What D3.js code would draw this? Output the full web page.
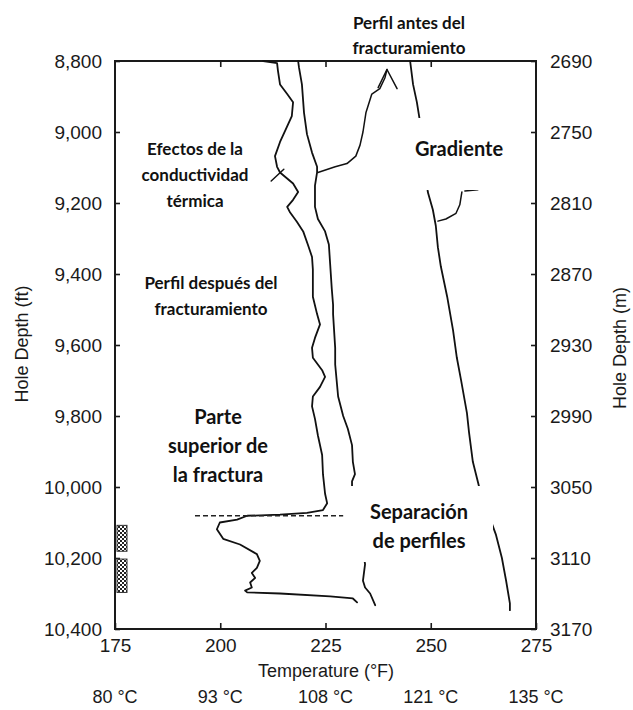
<!DOCTYPE html>
<html><head><meta charset="utf-8">
<script src="https://cdn.jsdelivr.net/npm/d3@7"></script>
<style>
html,body{margin:0;padding:0;background:#fff;}
svg{display:block;}
</style></head><body>
<svg id="chart" width="633" height="710"></svg>
<script>
// ---------- data ----------
const tempTicks = [175, 200, 225, 250, 275];
const celsiusLabels = ["80 °C", "93 °C", "108 °C", "121 °C", "135 °C"];
const depthFtTicks = [8800, 9000, 9200, 9400, 9600, 9800, 10000, 10200, 10400];
const depthMTicks = [2690, 2750, 2810, 2870, 2930, 2990, 3050, 3110, 3170];

// profile after fracturing (°F, ft)
const afterTemp = [210.2,213.5,213.7,214.2,215.9,217.3,217.0,215.4,214.2,213.0,213.5,214.2,217.3,218.5,217.3,215.9,216.6,218.2,219.7,220.8,221.8,222.0,222.0,222.0,223.0,223.7,222.5,221.8,222.0,224.2,224.9,223.7,222.0,221.8,222.5,223.2,224.2,224.4,224.9,225.4,224.4,220.6,214.2,206.4,204.0,199.9,199.2,200.7,204.7,208.7,209.4,208.7,207.5,208.3,207.1,207.5,205.9,206.4,214.2,226.1,231.5,232.5];
const afterDepth = [8800,8806,8827,8866,8893,8916,8955,8997,9028,9068,9098,9114,9145,9169,9191,9211,9227,9253,9280,9317,9352,9387,9426,9464,9513,9542,9580,9608,9636,9671,9690,9718,9745,9773,9808,9855,9910,9964,10019,10046,10065,10073,10078,10081,10092,10100,10119,10146,10162,10189,10208,10228,10242,10256,10269,10283,10292,10297,10300,10308,10314,10325];

// profile before fracturing
const beforeTemp = [218.5,218.7,219.4,219.9,220.6,221.8,223.0,223.0,222.5,222.5,223.2,224.9,225.8,226.1,226.5,226.8,226.8,227.3,227.3,228.0,229.2,230.3,231.3,231.5,232.0,231.3,231.3,231.8,233.0,234.1,234.4,233.9,234.4,235.6,236.8];
const beforeDepth = [8800,8818,8866,8946,9006,9058,9098,9114,9151,9211,9245,9280,9317,9371,9443,9487,9513,9608,9655,9745,9800,9836,9882,9929,9964,9984,10000,10073,10141,10195,10217,10264,10283,10300,10333];

// geothermal gradient
const gradientTemp = [245.1,245.8,246.7,247.4,248.4,249.3,250.5,251.2,251.7,252.4,253.9,255.3,256.2,257.2,258.6,259.1,260.0,261.5,263.6,265.5,266.9,267.9,268.8,268.8];
const gradientDepth = [8800,8866,8916,8967,9068,9169,9219,9264,9325,9379,9464,9559,9636,9699,9792,9847,9929,10000,10073,10135,10200,10264,10328,10347];

// annotation pointers
const arrowTemp = [223.2,227.3,230.1,232.2,233.2,233.9,234.6,236.0,237.9,239.1,239.6];
const arrowDepth = [9114,9098,9089,9068,9037,9000,8946,8893,8878,8848,8824];
const arrowHeadTemp = [237.5,239.6,242.0];
const arrowHeadDepth = [8875,8824,8878];
const hookTemp = [251.7,253.6,256.0,256.9,257.4];
const hookDepth = [9251,9245,9229,9205,9169];
const hookDashTemp = [258.1,261.2];
const hookDashDepth = [9166,9163];
const effectTemp = [212.1,215.1];
const effectDepth = [9138,9105];

// top of fracture (dashed) and perforated intervals
const fractureTopDepth = 10081;
const fractureTopTemps = [194.0, 229.2];
const perfTop = [10108, 10203];
const perfBottom = [10181, 10297];

// ---------- drawing ----------
const svg = d3.select("#chart");
const x = d3.scaleLinear().domain([175, 275]).range([115, 536]);
const y = d3.scaleLinear().domain([8800, 10400]).range([61, 629]);
const yM = d3.scaleLinear().domain([2690, 3170]).range([61, 629]);

const axisFont = "'Liberation Sans', Arial, sans-serif";
const noteFont = "Lato, 'Open Sans', sans-serif";
const ink = "#1a1a1a";

function styleAxis(g, size) {
  g.select(".domain").remove();
  g.selectAll(".tick line").attr("stroke", ink).attr("stroke-width", 1.6);
  g.selectAll(".tick text").attr("fill", ink).attr("font-size", size).attr("font-family", axisFont);
  g.attr("font-family", axisFont);
}

svg.append("g").attr("transform", `translate(${x(175)},0)`)
  .call(d3.axisLeft(y).tickValues(depthFtTicks).tickSize(-5).tickPadding(13).tickFormat(d3.format(",")))
  .call(g => styleAxis(g, 19));

svg.append("g").attr("transform", `translate(${x(275)},0)`)
  .call(d3.axisRight(yM).tickValues(depthMTicks).tickSize(-5).tickPadding(14).tickFormat(d3.format("d")))
  .call(g => styleAxis(g, 19));

svg.append("g").attr("transform", `translate(0,${y(10400)})`)
  .call(d3.axisBottom(x).tickValues(tempTicks).tickSize(-6).tickPadding(10))
  .call(g => styleAxis(g, 19));

svg.append("g").attr("transform", `translate(0,${y(8800)})`)
  .call(d3.axisTop(x).tickValues(tempTicks.slice(1, 4)).tickSize(-6).tickFormat(""))
  .call(g => styleAxis(g, 19));

// frame
svg.append("rect")
  .attr("x", x(175)).attr("y", y(8800))
  .attr("width", x(275) - x(175)).attr("height", y(10400) - y(8800))
  .attr("fill", "none").attr("stroke", ink).attr("stroke-width", 2);

// celsius row
svg.append("g").selectAll("text").data(tempTicks).join("text")
  .attr("x", d => x(d)).attr("y", 697)
  .attr("text-anchor", "middle").attr("dominant-baseline", "central")
  .attr("font-family", axisFont).attr("font-size", 18).attr("fill", ink)
  .text((d, i) => celsiusLabels[i]);

// axis titles
svg.append("text").attr("x", 326).attr("y", 671)
  .attr("text-anchor", "middle").attr("dominant-baseline", "central")
  .attr("font-family", axisFont).attr("font-size", 18).attr("fill", ink)
  .text("Temperature (°F)");
svg.append("text").attr("transform", "translate(22,344) rotate(-90)")
  .attr("text-anchor", "middle").attr("dominant-baseline", "central")
  .attr("font-family", axisFont).attr("font-size", 18).attr("fill", ink)
  .text("Hole Depth (ft)");
svg.append("text").attr("transform", "translate(620,348) rotate(-90)")
  .attr("text-anchor", "middle").attr("dominant-baseline", "central")
  .attr("font-family", axisFont).attr("font-size", 18).attr("fill", ink)
  .text("Hole Depth (m)");

// perforation pattern
const defs = svg.append("defs");
const pat = defs.append("pattern").attr("id", "perf").attr("patternUnits", "userSpaceOnUse")
  .attr("width", 4).attr("height", 4);
pat.append("rect").attr("width", 4).attr("height", 4).attr("fill", "#fff");
pat.append("rect").attr("width", 2).attr("height", 2).attr("fill", "#222");
pat.append("rect").attr("x", 2).attr("y", 2).attr("width", 2).attr("height", 2).attr("fill", "#222");
svg.append("g").selectAll("rect").data(perfTop).join("rect")
  .attr("x", x(175) + 2).attr("width", 10)
  .attr("y", d => y(d)).attr("height", (d, i) => y(perfBottom[i]) - y(d))
  .attr("fill", "url(#perf)").attr("stroke", "#333").attr("stroke-width", 1);

// curves
const line = d3.line().x(d => x(d[0])).y(d => y(d[1]));
const zip = (a, b) => a.map((v, i) => [v, b[i]]);
function drawPath(t, dd, w) {
  svg.append("path").datum(zip(t, dd)).attr("d", line)
    .attr("fill", "none").attr("stroke", "#111").attr("stroke-width", w || 1.8)
    .attr("stroke-linejoin", "round").attr("stroke-linecap", "round");
}
drawPath(afterTemp, afterDepth);
drawPath(beforeTemp, beforeDepth);
drawPath(gradientTemp, gradientDepth);
drawPath(arrowTemp, arrowDepth, 1.5);
drawPath(arrowHeadTemp, arrowHeadDepth, 1.5);
drawPath(hookTemp, hookDepth, 1.5);
drawPath(hookDashTemp, hookDashDepth, 1.5);
drawPath(effectTemp, effectDepth, 1.5);

// dashed fracture top
svg.append("line")
  .attr("x1", x(fractureTopTemps[0])).attr("x2", x(fractureTopTemps[1]))
  .attr("y1", y(fractureTopDepth)).attr("y2", y(fractureTopDepth))
  .attr("stroke", "#222").attr("stroke-width", 1.6).attr("stroke-dasharray", "5,3");

// label backgrounds (they hide parts of the curves, as in the original)
svg.append("rect").attr("x", 400).attr("y", 118).attr("width", 115).attr("height", 72).attr("fill", "#fff");
svg.append("rect").attr("x", 345).attr("y", 486).attr("width", 148).attr("height", 76).attr("fill", "#fff");

// annotations
const notes = [
  ["Perfil antes del", 409, 22, 17],
  ["fracturamiento", 409, 47, 17],
  ["Gradiente", 459, 148, 20],
  ["Efectos de la", 195, 148, 17],
  ["conductividad", 195, 174, 17],
  ["térmica", 195, 200, 17],
  ["Perfil después del", 211, 282, 17],
  ["fracturamiento", 211, 308, 17],
  ["Parte", 218, 416, 20],
  ["superior de", 218, 445, 20],
  ["la fractura", 218, 474, 20],
  ["Separación", 419, 511, 20],
  ["de perfiles", 419, 540, 20]
];
svg.append("g").selectAll("text").data(notes).join("text")
  .attr("x", d => d[1]).attr("y", d => d[2])
  .attr("text-anchor", "middle").attr("dominant-baseline", "central")
  .attr("font-family", noteFont).attr("font-weight", "bold")
  .attr("font-size", d => d[3]).attr("fill", "#111")
  .text(d => d[0]);
</script>
</body></html>
